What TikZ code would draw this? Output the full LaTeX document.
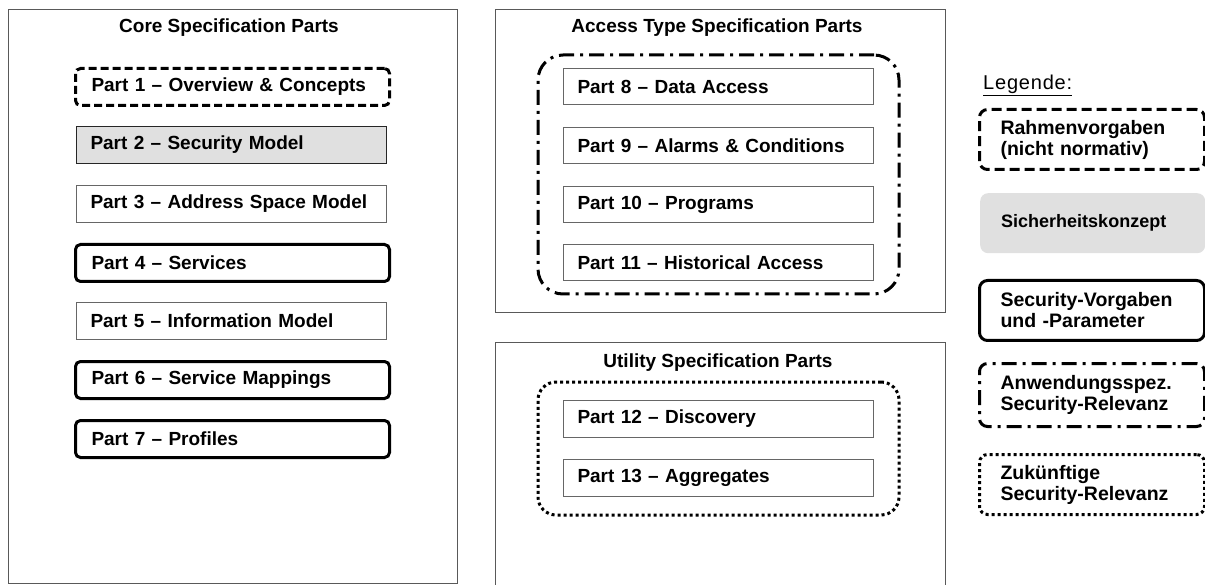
\documentclass[tikz,border=0pt]{standalone}
\usepackage{fontspec}
\setmainfont{Liberation Sans}
\usetikzlibrary{fit}
\begin{document}
\begin{tikzpicture}[x=1pt,y=-1pt,
  every node/.style={font=\bfseries\fontsize{19}{22}\selectfont, inner sep=0pt},
  panel/.style={draw=black!65, line width=1.3pt, rectangle},
  ptitle/.style={anchor=center},
  partbase/.style={rectangle, anchor=north west, minimum width=310pt, minimum height=37pt,
    text width=282pt, inner xsep=14pt, align=left},
  thinbox/.style={partbase, draw=black!60, line width=1pt},
  greybox/.style={partbase, draw=black!85, fill=black!12, line width=1pt},
  thickbox/.style={partbase, draw=black, line width=3pt, rounded corners=5pt},
  dashbox/.style={thickbox, dash pattern=on 8pt off 4pt},
  dashdotgroup/.style={draw=black, line width=3pt, dash pattern=on 15pt off 6pt on 3pt off 6pt,
    rounded corners=25pt, inner xsep=25pt, inner ysep=13pt},
  dotgroup/.style={draw=black, line width=3pt, dash pattern=on 3pt off 3pt,
    rounded corners=18pt, inner xsep=25pt, inner ysep=18pt},
  legbase/.style={rectangle, anchor=north west, minimum width=225pt, minimum height=60pt,
    text width=183pt, inner xsep=21pt, align=left, font=\bfseries\fontsize{19.5}{21}\selectfont},
  legthick/.style={legbase, draw=black, line width=3pt, rounded corners=8pt},
]
\useasboundingbox (0,0) rectangle (1205,585);
\fill[white] (0,0) rectangle (1205,585);

% panels
\node[panel, anchor=north west, minimum width=449pt, minimum height=574pt] (core) at (8,9) {};
\node[ptitle] (coret) at (229,28) {Core Specification Parts};
\node[panel, anchor=north west, minimum width=450pt, minimum height=303pt] (acc) at (495,9) {};
\node[ptitle] (acct) at (717,28) {Access Type Specification Parts};
\node[panel, anchor=north west, minimum width=450pt, minimum height=245pt] (util) at (495,342) {};
\node[ptitle] (utilt) at (718,363) {Utility Specification Parts};

% core parts
\node[dashbox, minimum width=312pt, inner xsep=16pt] (p1) at (74,67) {Part 1 – Overview \& Concepts};
\node[greybox] (p2) at (76,126) {Part 2 – Security Model};
\node[thinbox] (p3) at (76,185) {Part 3 – Address Space Model};
\node[thickbox, minimum width=312pt, inner xsep=16pt] (p4) at (74,243) {Part 4 – Services};
\node[thinbox] (p5) at (76,302) {Part 5 – Information Model};
\node[thickbox, minimum width=312pt, inner xsep=16pt] (p6) at (74,360) {Part 6 – Service Mappings};
\node[thickbox, minimum width=312pt, inner xsep=16pt] (p7) at (74,419) {Part 7 – Profiles};

% access type parts
\node[thinbox, minimum height=36pt] (p8) at (563,68) {Part 8 – Data Access};
\node[thinbox, minimum height=36pt] (p9) at (563,127) {Part 9 – Alarms \& Conditions};
\node[thinbox, minimum height=36pt] (p10) at (563,186) {Part 10 – Programs};
\node[thinbox, minimum height=36pt] (p11) at (563,244) {Part 11 – Historical Access};
\node[dashdotgroup, fit=(p8)(p11)] (g1) {};

% utility parts
\node[thinbox] (p12) at (563,400) {Part 12 – Discovery};
\node[thinbox] (p13) at (563,459) {Part 13 – Aggregates};
\node[dotgroup, fit=(p12)(p13)] (g2) {};

% legend
\node[anchor=base west, font=\mdseries\fontsize{20}{22}\selectfont\addfontfeatures{LetterSpace=4}] (leg) at (983,90) {\underline{Legende:}};
\node[legthick, dash pattern=on 10pt off 5pt] (l1) at (978,108) {Rahmenvorgaben\\(nicht normativ)};
\node[legbase, fill=black!12, rounded corners=8pt, font=\bfseries\fontsize{18}{21}\selectfont] (l2) at (980,193) {Sicherheitskonzept};
\node[legthick] (l3) at (978,279) {Security-Vorgaben\\und -Parameter};
\node[legthick, minimum height=63pt, dash pattern=on 15pt off 6pt on 3pt off 6pt] (l4) at (978,362) {Anwendungsspez.\\Security-Relevanz};
\node[legthick, dash pattern=on 3pt off 3pt] (l5) at (978,453) {Zukünftige\\Security-Relevanz};
\end{tikzpicture}
\end{document}
